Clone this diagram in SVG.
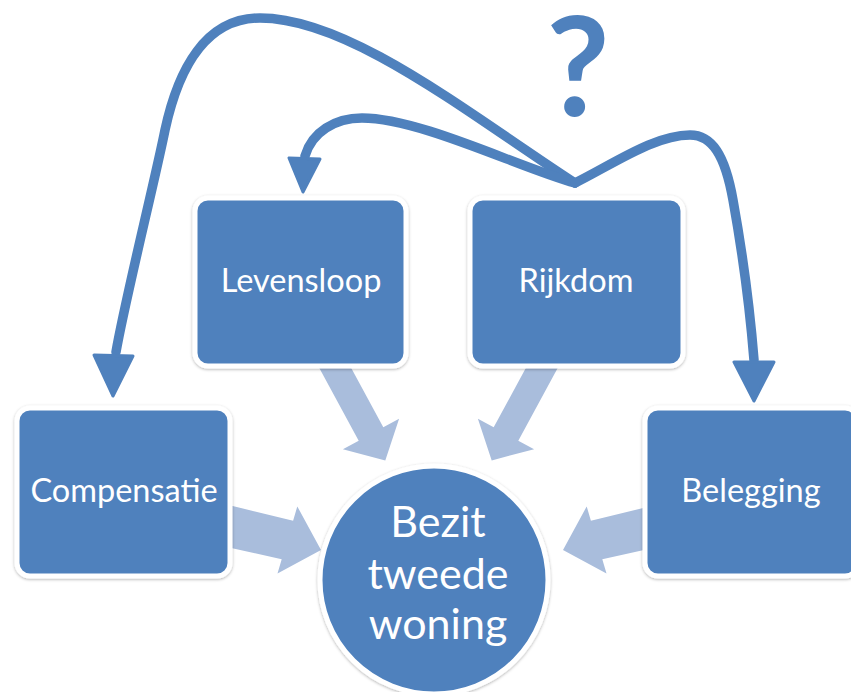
<svg xmlns="http://www.w3.org/2000/svg" width="851" height="692" viewBox="0 0 851 692">
<style>
.node{fill:#4F81BD;stroke:#FFFFFF;stroke-width:5;filter:url(#sh)}
.lbl{font-family:Lato,"Open Sans",sans-serif;fill:#FFFFFF;text-anchor:middle}
.big{font-size:32.5px}
.ctr{font-size:43px}
.fat{fill:#A9BDDC}
.curve{fill:none;stroke:#4F81BD;stroke-width:9.5;stroke-linecap:round;stroke-linejoin:round}
.head{fill:#4F81BD;stroke:#4F81BD;stroke-width:3;stroke-linejoin:round}
</style>
<defs>
<filter id="sh" x="-10%" y="-10%" width="120%" height="120%">
<feDropShadow dx="0" dy="1" stdDeviation="1.5" flood-color="#000000" flood-opacity="0.3"/>
</filter>
</defs>
<rect width="851" height="692" fill="#FFFFFF"/>
<g id="fat-arrows">
<polygon class="fat" points="306.3,344 358.7,440.7 342.9,449.2 385.3,460.4 399.1,418.8 383.3,427.3 330.9,330.6"/>
<polygon class="fat" points="570.7,344 518.3,440.7 534.1,449.2 491.7,460.4 477.9,418.8 493.7,427.3 546.1,330.6"/>
<polygon class="fat" points="200,498 293.1,520.8 297.3,506.4 321,550 277.5,573.6 281.7,559.2 195,540"/>
<polygon class="fat" points="684,498 590.9,520.8 586.7,506.4 563,550 606.5,573.6 602.3,559.2 689,540"/>
</g>
<g id="levensloop">
<rect class="node" x="195" y="198" width="211" height="168" rx="13"/>
<text class="lbl big" x="301" y="292">Levensloop</text>
</g>
<g id="rijkdom">
<rect class="node" x="470" y="198" width="213" height="168" rx="13"/>
<text class="lbl big" x="576" y="292">Rijkdom</text>
</g>
<g id="compensatie">
<rect class="node" x="17" y="408" width="213" height="168" rx="13"/>
<text class="lbl big" x="124" y="502">Compensatie</text>
</g>
<g id="belegging">
<rect class="node" x="645" y="408" width="213" height="168" rx="13"/>
<text class="lbl big" x="751" y="502">Belegging</text>
</g>
<g id="bezit">
<circle class="node" cx="434" cy="580" r="114"/>
<text class="lbl ctr" x="438" y="537">Bezit</text>
<text class="lbl ctr" x="438" y="589">tweede</text>
<text class="lbl ctr" x="438" y="639">woning</text>
</g>
<g id="connectors">
<path class="curve" d="M575,183 C470,115 350,18 260,18 C205,18 178,70 165,130 C155,180 125,300 116,352"/>
<polygon class="head" points="94,355 133,356 113,396"/>
<path class="curve" d="M575,183 C520,168 420,118 362,118 C335,118 312,132 305,156"/>
<polygon class="head" points="289,158 320,159 303,192"/>
<path class="curve" d="M575,183 C615,163 655,135 690,135 C712,135 725,155 733,200 C742,250 750,310 754,360"/>
<polygon class="head" points="734,362 774,362 754,401"/>
</g>
<text x="578" y="116" font-family="Lato,'Open Sans',sans-serif" font-weight="bold" font-size="138" fill="#4F81BD" text-anchor="middle">?</text>
</svg>
